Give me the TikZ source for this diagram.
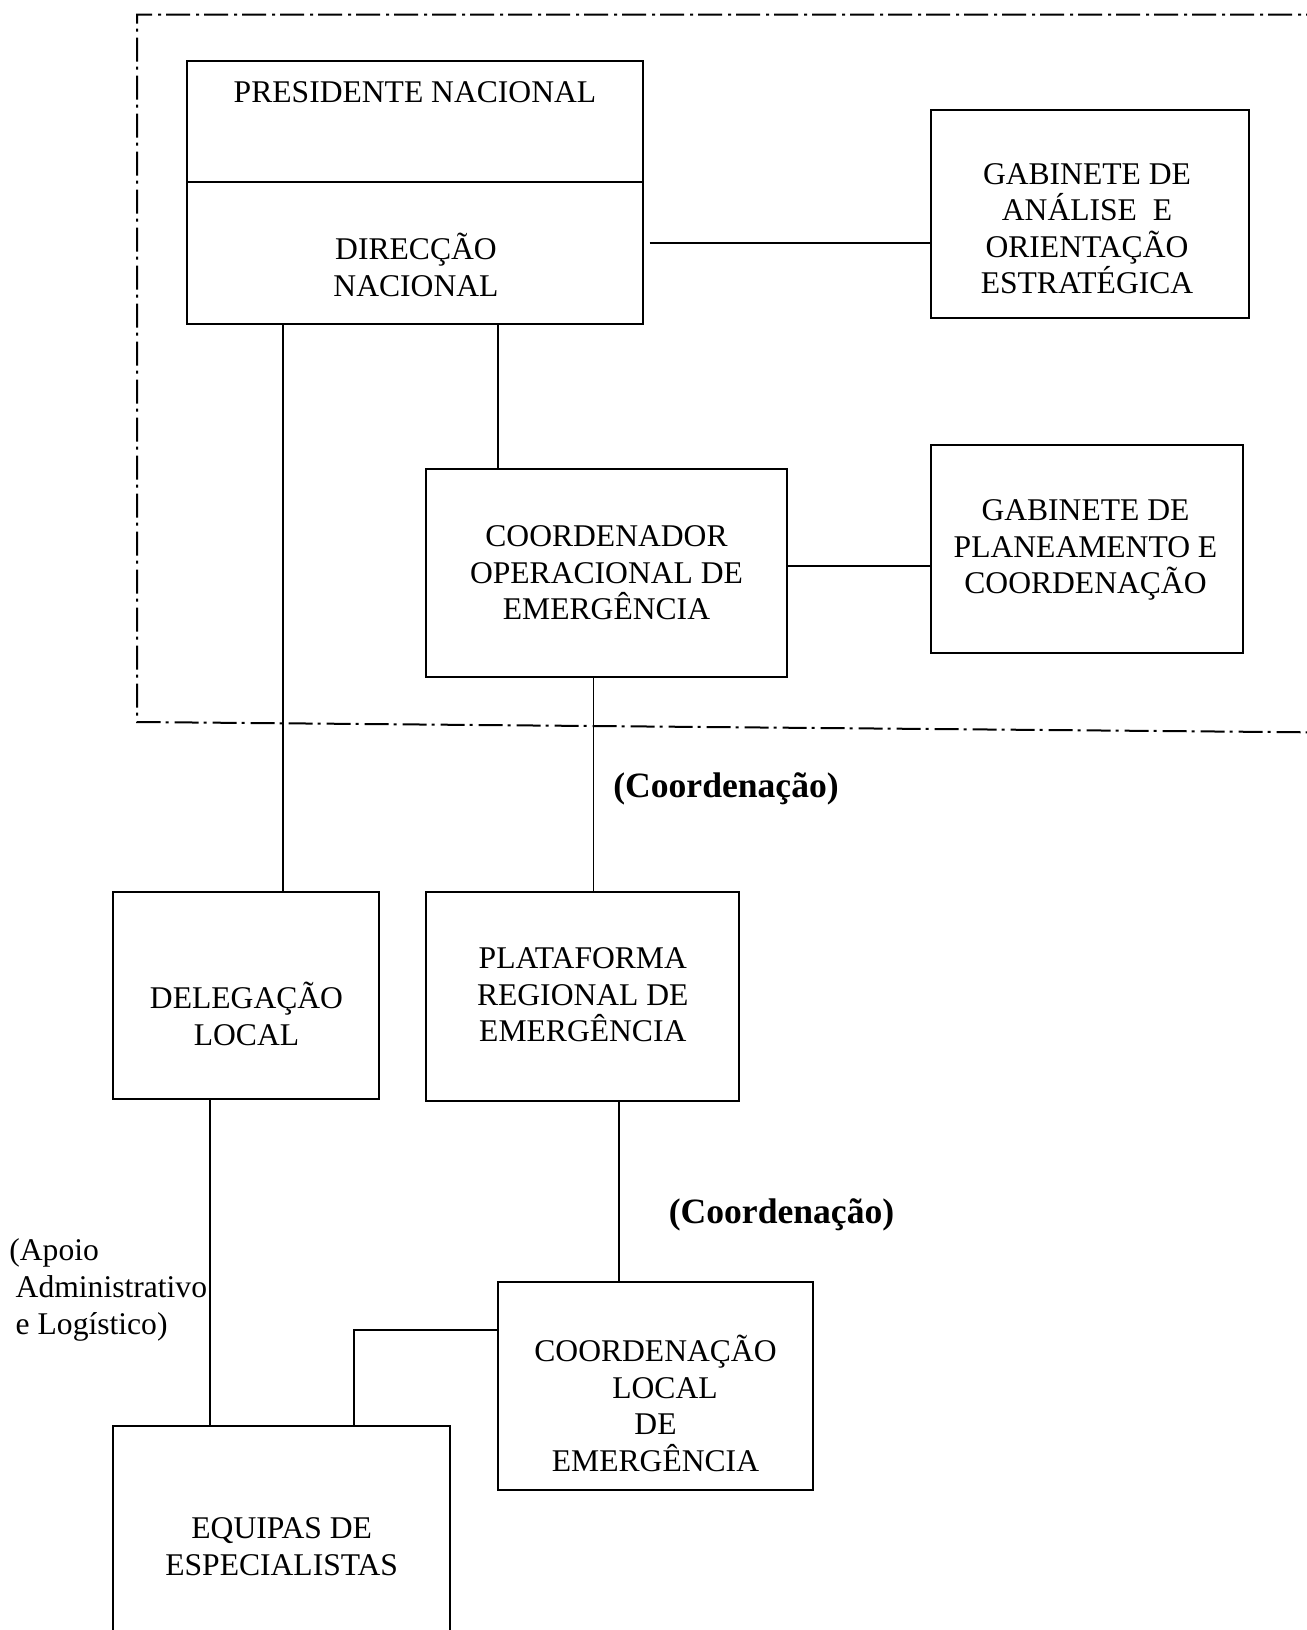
\documentclass[tikz,border=0pt]{standalone}
\usepackage{fontspec}
\setmainfont{Liberation Serif}
\usetikzlibrary{fit,calc}
\begin{document}
\begin{tikzpicture}[x=0.5pt,y=-0.5pt,
  box/.style={draw, line width=1pt, inner sep=0pt},
  conn/.style={line width=0.9pt},
  txt/.style={align=center, inner sep=0pt, font=\fontsize{15.8}{18.3}\selectfont},
  boldlbl/.style={inner sep=0pt, font=\fontsize{17.8}{20}\selectfont\bfseries},
  dashdot/.style={line width=1pt, dash pattern=on 12pt off 2.5pt on 1.5pt off 3pt}]
\useasboundingbox (0,0) rectangle (1307,1630);
\clip (0,0) rectangle (1307,1630);
\fill[white] (0,0) rectangle (1307,1630);

% dash-dot frame
\draw[dashdot] (1330,14.6) -- (137,14.6) -- (137,722) -- (1330,732.5);

% boxes
\node[box, fit={(186.7,61) (642.7,181.7)}] (pres) {};
\node[box, fit={(186.7,181.7) (642.7,324.3)}] (dir) {};
\node[box, fit={(930.7,110) (1248.7,317.7)}] (gab1) {};
\node[box, fit={(426,469.3) (786.7,676.7)}] (coor) {};
\node[box, fit={(930.7,445) (1243.3,652.7)}] (gab2) {};
\node[box, fit={(113.3,892) (378.5,1099)}] (del) {};
\node[box, fit={(426.3,892) (739.3,1101)}] (plat) {};
\node[box, fit={(498,1282) (813,1490)}] (cloc) {};
\node[box, fit={(113.3,1425.7) (450,1720)}] (equ) {};

% texts
\node[txt] (tpres) at (415,91.7) {PRESIDENTE NACIONAL};
\node[txt] (tdir) at (416,265) {DIRECÇÃO\\NACIONAL};
\node[txt] (tgab1) at (1087,228.6) {GABINETE DE\\ANÁLISE\ \ E\\ORIENTAÇÃO\\ESTRATÉGICA};
\node[txt] (tcoor) at (606.5,572.7) {COORDENADOR\\OPERACIONAL DE\\EMERGÊNCIA};
\node[txt] (tgab2) at (1085.5,550) {GABINETE DE\\PLANEAMENTO E\\COORDENAÇÃO};
\node[txt] (tdel) at (246.5,1013.8) {DELEGAÇÃO\\LOCAL};
\node[txt] (tplat) at (582.8,995) {PLATAFORMA\\REGIONAL DE\\EMERGÊNCIA};
\node[txt] (tcloc) at (655.5,1403.5) {COORDENAÇÃO\\\hspace*{0.6em}LOCAL\\DE\\EMERGÊNCIA};
\node[txt] (tequ) at (281.7,1546.5) {EQUIPAS DE\\ESPECIALISTAS};

\node[boldlbl] (lab1) at (726,789) {(Coordenação)};
\node[boldlbl] (lab2) at (781.5,1215) {(Coordenação)};
\node[txt, align=left, anchor=west, font=\fontsize{15.8}{18.5}\selectfont] (apoio) at (9,1290)
  {(Apoio\\\hspace*{0.2em}Administrativo\\\hspace*{0.2em}e Logístico)};

% connector helper coordinates
\coordinate (x1) at (282.7,0);
\coordinate (x2) at (498.3,0);
\coordinate (y1) at (0,243);
\coordinate (y2) at (0,566);
\coordinate (x3) at (593.5,0);
\coordinate (x4) at (618.6,0);
\coordinate (x5) at (210,0);
\coordinate (x6) at (354.3,0);
\coordinate (y3) at (0,1330);

% connectors
\draw[conn] (x1 |- dir.south) -- (x1 |- del.north);
\draw[conn] (x2 |- dir.south) -- (x2 |- coor.north);
\draw[conn, shorten <=3pt] (dir.east |- y1) -- (gab1.west |- y1);
\draw[conn] (coor.east |- y2) -- (gab2.west |- y2);
\draw[conn] (x3 |- coor.south) -- (x3 |- plat.north);
\draw[conn] (x4 |- plat.south) -- (x4 |- cloc.north);
\draw[conn] (x5 |- del.south) -- (x5 |- equ.north);
\draw[conn] (cloc.west |- y3) -- (x6 |- y3) -- (x6 |- equ.north);
\end{tikzpicture}
\end{document}
